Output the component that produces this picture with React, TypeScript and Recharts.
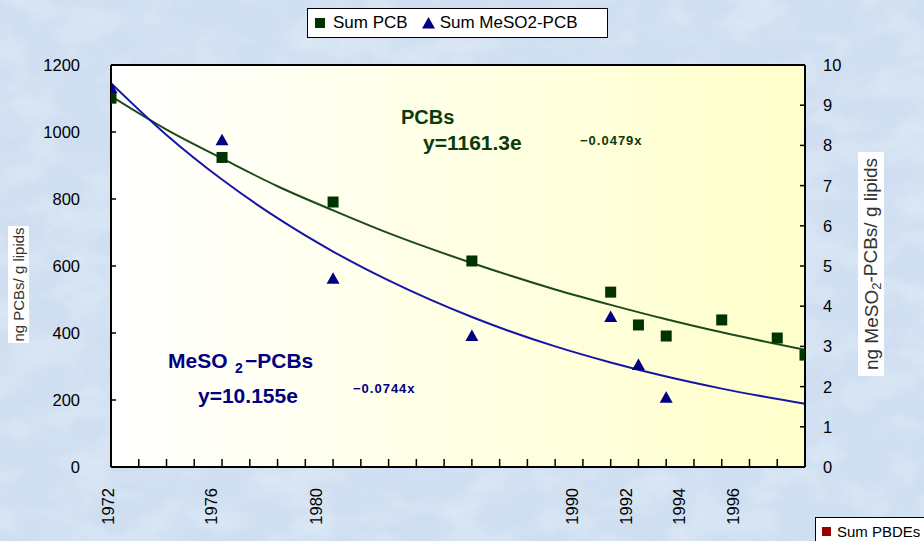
import React from "react"
import { ComposedChart, Scatter, Line, XAxis, YAxis, ReferenceLine, Legend, CartesianGrid } from "recharts"

// measured points
const years = [1972, 1976, 1980, 1985, 1990, 1991, 1992, 1994, 1996, 1997]
const sumPcb = [1101, 924, 791, 615, 522, 424, 391, 439, 385, 334]
const mesoYears = [1972, 1976, 1980, 1985, 1990, 1991, 1992]
const sumMeso = [9.43, 8.13, 4.68, 3.26, 3.73, 2.54, 1.72]

// exponential trend curves
const trendYears = [1972, 1974, 1976, 1978, 1980, 1982, 1985, 1988, 1990, 1992, 1994, 1997]
const pcbTrend = [1107, 1007, 921, 838, 766, 698, 609, 530, 484, 441, 402, 350]
const mesoTrend = [9.55, 8.26, 7.15, 6.19, 5.36, 4.64, 3.73, 3.0, 2.6, 2.25, 1.95, 1.57]

const yearTicks = [
  1972, 1973, 1974, 1975, 1976, 1977, 1978, 1979, 1980, 1981, 1982, 1983, 1984,
  1985, 1986, 1987, 1988, 1989, 1990, 1991, 1992, 1993, 1994, 1995, 1996, 1997,
]
const tickLabels = ["1972", "1976", "1980", "1990", "1992", "1994", "1996"]
const tickLabelAt = [1972, 1975.6, 1979.4, 1988.6, 1990.55, 1992.45, 1994.4]
const leftTicks = [0, 200, 400, 600, 800, 1000, 1200]
const rightTicks = [0, 1, 2, 3, 4, 5, 6, 7, 8, 9, 10]

const GREEN = "#003300"
const GREEN_LINE = "#1b4a1b"
const NAVY = "#000080"
const BLUE_LINE = "#1515a8"
const FONT = "'Liberation Sans', Arial, sans-serif"

const pcbPoints = years.map((year, i) => ({ year, value: sumPcb[i] }))
const mesoPoints = mesoYears.map((year, i) => ({ year, value: sumMeso[i] }))
const pcbTrendPoints = trendYears.map((year, i) => ({ year, value: pcbTrend[i] }))
const mesoTrendPoints = trendYears.map((year, i) => ({ year, value: mesoTrend[i] }))

const allXTicks = Array.from(new Set([...yearTicks, ...tickLabelAt])).sort((a, b) => a - b)

function XTick(props: any) {
  const { x, y, payload } = props
  const v = payload.value
  const i = tickLabelAt.indexOf(v)
  return (
    <g>
      {Number.isInteger(v) && <line x1={x} x2={x} y1={y} y2={y - 8} stroke="#000" strokeWidth={1.5} />}
      {i >= 0 && (
        <text
          transform={`translate(${i === 0 ? x - 3 : x},${y + 21}) rotate(-90)`}
          textAnchor="end"
          dy="0.36em"
          fontSize={16.5}
          fontFamily={FONT}
          fill="#000"
        >
          {tickLabels[i]}
        </text>
      )}
    </g>
  )
}

function LeftTick(props: any) {
  const { x, y, payload } = props
  return (
    <g>
      <line x1={x} x2={x + 5} y1={y} y2={y} stroke="#000" strokeWidth={1.5} />
      <text x={x - 31} y={y} dy="0.36em" textAnchor="end" fontSize={16.5} fontFamily={FONT} fill="#000">
        {payload.value}
      </text>
    </g>
  )
}

function RightTick(props: any) {
  const { x, y, payload } = props
  return (
    <g>
      <line x1={x} x2={x - 5} y1={y} y2={y} stroke="#000" strokeWidth={1.5} />
      <text x={x + 18} y={y} dy="0.36em" textAnchor="start" fontSize={16.5} fontFamily={FONT} fill="#000">
        {payload.value}
      </text>
    </g>
  )
}

const squareShape = (fill: string) => (p: any) =>
  <rect x={p.cx - 5.5} y={p.cy - 5.5} width={11} height={11} fill={fill} />

const triangleShape = (p: any) => (
  <polygon points={`${p.cx},${p.cy - 6.5} ${p.cx + 6.5},${p.cy + 5} ${p.cx - 6.5},${p.cy + 5}`} fill={NAVY} />
)

function LegendBox() {
  return (
    <div
      style={{
        width: 299,
        height: 28,
        background: "#fff",
        border: "1px solid #000",
        display: "flex",
        alignItems: "center",
        fontFamily: FONT,
        fontSize: 17,
        color: "#000",
        boxSizing: "content-box",
      }}
    >
      <svg width={18} height={12} style={{ marginLeft: 7 }}>
        <rect x={0} y={1} width={10} height={10} fill={GREEN} />
      </svg>
      <span>Sum PCB</span>
      <svg width={18} height={13} style={{ marginLeft: 14 }}>
        <polygon points="6.5,0 13,11.5 0,11.5" fill={NAVY} />
      </svg>
      <span>Sum MeSO2-PCB</span>
    </div>
  )
}

export default function App() {
  return (
    <div style={{ position: "absolute", left: 0, top: 0, width: 924, height: 541, overflow: "hidden", background: "#d4e2f2" }}>
      <svg width={924} height={541} style={{ position: "absolute", left: 0, top: 0 }}>
        <defs>
          <filter id="mottle" x="0" y="0" width="100%" height="100%">
            <feTurbulence type="fractalNoise" baseFrequency="0.018 0.03" numOctaves={4} seed={7} />
            <feColorMatrix
              type="matrix"
              values="0 0 0 0 1  0 0 0 0 1  0 0 0 0 1  0 0 0 1.1 -0.45"
            />
          </filter>
          <linearGradient id="plotBg" x1="0" y1="0" x2="1" y2="0">
            <stop offset="0%" stopColor="#ffffff" />
            <stop offset="100%" stopColor="#ffffcb" />
          </linearGradient>
        </defs>
        <rect width={924} height={541} fill="#cfdff1" />
        <rect width={924} height={541} filter="url(#mottle)" opacity={0.55} />
      </svg>

      <div style={{ position: "absolute", left: 0, top: 0 }}>
        <ComposedChart width={924} height={541} margin={{ top: 65, right: 0, bottom: 0, left: 0 }}>
          <CartesianGrid horizontal={false} vertical={false} fill="url(#plotBg)" stroke="none" />
          <XAxis
            type="number"
            dataKey="year"
            domain={[1972, 1997]}
            ticks={allXTicks}
            interval={0}
            allowDataOverflow
            height={74}
            tickLine={false}
            tickSize={0}
            tickMargin={0}
            tick={XTick}
            axisLine={{ stroke: "#000", strokeWidth: 2 }}
          />
          <YAxis
            type="number"
            domain={[0, 1200]}
            ticks={leftTicks}
            interval={0}
            width={111}
            tickLine={false}
            tickSize={0}
            tickMargin={0}
            tick={LeftTick}
            axisLine={{ stroke: "#000", strokeWidth: 2 }}
          />
          <YAxis
            yAxisId="right"
            orientation="right"
            type="number"
            domain={[0, 10]}
            ticks={rightTicks}
            interval={0}
            width={119}
            tickLine={false}
            tickSize={0}
            tickMargin={0}
            tick={RightTick}
            axisLine={{ stroke: "#000", strokeWidth: 2 }}
          />
          <ReferenceLine y={1200} stroke="#000" strokeWidth={2} />
          <Line
            data={pcbTrendPoints}
            dataKey="value"
            type="monotone"
            stroke={GREEN_LINE}
            strokeWidth={2}
            dot={false}
            activeDot={false}
            isAnimationActive={false}
            legendType="none"
          />
          <Line
            data={mesoTrendPoints}
            dataKey="value"
            yAxisId="right"
            type="monotone"
            stroke={BLUE_LINE}
            strokeWidth={2}
            dot={false}
            activeDot={false}
            isAnimationActive={false}
            legendType="none"
          />
          <Scatter
            name="Sum PCB"
            data={pcbPoints}
            dataKey="value"
            shape={squareShape(GREEN)}
            isAnimationActive={false}
          />
          <Scatter
            name="Sum MeSO2-PCB"
            data={mesoPoints}
            dataKey="value"
            yAxisId="right"
            shape={triangleShape}
            isAnimationActive={false}
          />
          <Legend
            verticalAlign="middle"
            align="center"
            layout="horizontal"
            content={() => <LegendBox />}
            wrapperStyle={{ top: 8, left: 307, width: 301, height: 30 }}
          />
        </ComposedChart>
      </div>

      <svg width={924} height={541} style={{ position: "absolute", left: 0, top: 0, pointerEvents: "none" }}>
        <rect x={8} y={226} width={21} height={117} fill="#fff" />
        <text
          transform="translate(18.5,284.5) rotate(-90)"
          textAnchor="middle"
          dy="0.36em"
          fontSize={15}
          fontFamily={FONT}
          fill="#333"
        >
          ng PCBs/ g lipids
        </text>
        <rect x={858} y={152} width={26} height={224} fill="#fff" />
        <text
          transform="translate(871,264) rotate(-90)"
          textAnchor="middle"
          dy="0.36em"
          fontSize={19}
          fontFamily={FONT}
          fill="#333"
        >
          ng MeSO<tspan fontSize={13} dy="0.25em">2</tspan>
          <tspan dy="-0.2em">-PCBs/ g lipids</tspan>
        </text>

        <g fontFamily={FONT} fontWeight="bold">
          <text x={401} y={124} fontSize={20} fill="#0b3b0b">PCBs</text>
          <text x={423} y={150} fontSize={21} fill="#0b3b0b">y=1161.3e</text>
          <text x={580} y={145} fontSize={13} fill="#0b3b0b" letterSpacing={1}>−0.0479x</text>

          <text x={168} y={368} fontSize={21} fill={NAVY}>MeSO</text>
          <text x={235} y={373} fontSize={14} fill={NAVY}>2</text>
          <text x={245} y={368} fontSize={21} fill={NAVY}>−PCBs</text>
          <text x={198} y={403} fontSize={21} fill={NAVY}>y=10.155e</text>
          <text x={353} y={393} fontSize={13} fill={NAVY} letterSpacing={1}>−0.0744x</text>
        </g>
      </svg>

      <div
        style={{
          position: "absolute",
          left: 815,
          top: 517,
          width: 120,
          height: 30,
          background: "#fff",
          border: "1px solid #000",
          fontFamily: FONT,
          fontSize: 15,
          color: "#000",
        }}
      >
        <div style={{ position: "absolute", left: 6, top: 9, width: 9, height: 9, background: "#990000" }} />
        <div style={{ position: "absolute", left: 21, top: 5 }}>Sum PBDEs</div>
      </div>
    </div>
  )
}
